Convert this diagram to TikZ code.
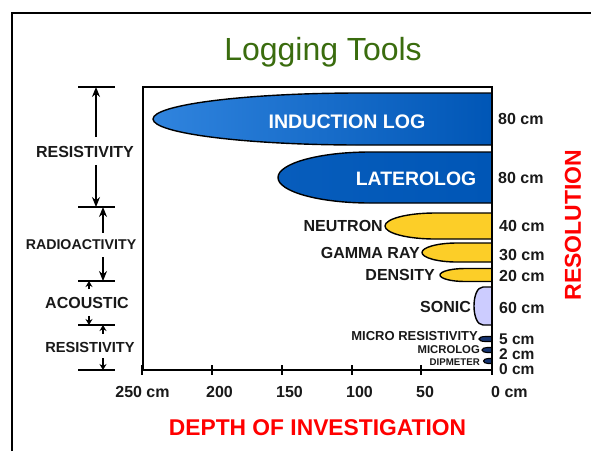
\documentclass[tikz,border=0pt]{standalone}
\usepackage{fontspec}
\setmainfont{Liberation Sans}
\usetikzlibrary{arrows.meta}

\definecolor{titlegreen}{RGB}{58,108,14}
\definecolor{darkblue}{RGB}{0,86,182}
\definecolor{lightblue}{RGB}{48,132,222}
\definecolor{toolyellow}{RGB}{252,206,40}
\definecolor{sonicblue}{RGB}{204,204,255}
\definecolor{navyblue}{RGB}{22,52,112}

\newcommand{\fs}[1]{\fontsize{#1}{#1}\selectfont}

\tikzset{
    tool/.style={draw=black, line width=1.4pt},
    smalltool/.style={draw=black, line width=1.1pt, fill=navyblue},
    lbl/.style={inner sep=0pt, font=\bfseries\fs{16}, text=black!90},
    toolname/.style={lbl, anchor=east},
    reslbl/.style={lbl, anchor=west},
    axl/.style={lbl, anchor=west},
    frame/.style={line width=2pt},
    tick/.style={line width=1.5pt},
    span/.style={line width=1.4pt, -{Stealth[length=10pt,width=8pt]}},
    shortspan/.style={line width=1.2pt, -{Stealth[length=6pt,width=7pt]}},
}

\begin{document}
\begin{tikzpicture}[x=1pt, y=-1pt]
    \useasboundingbox (0,0) rectangle (591,451);

    % Outer frame
    \draw[frame] (12,451) -- (12,13) -- (591,13);

    % Title
    \node[inner sep=0pt, anchor=base, font=\fs{32}, text=titlegreen] (title) at (323,60) {Logging Tools};

    % Tool shapes
    \draw[tool, left color=lightblue, right color=darkblue] (492,93) -- (360,93)
        arc[start angle=270, end angle=90, x radius=207, y radius=26] -- (492,145) -- cycle;
    \draw[tool, left color=darkblue!85!lightblue, right color=darkblue] (492,152) -- (370,152)
        arc[start angle=270, end angle=90, x radius=92, y radius=25.5] -- (492,203) -- cycle;
    \draw[tool, fill=toolyellow] (492,213) -- (435,213)
        arc[start angle=270, end angle=90, x radius=50, y radius=13] -- (492,239) -- cycle;
    \draw[tool, fill=toolyellow] (492,243) -- (457,243)
        arc[start angle=270, end angle=90, x radius=35, y radius=9.5] -- (492,262) -- cycle;
    \draw[tool, fill=toolyellow] (492,268.5) -- (465,268.5)
        arc[start angle=270, end angle=90, x radius=25, y radius=6.5] -- (492,281.5) -- cycle;
    \draw[tool, fill=sonicblue] (492,287) -- (483,287)
        .. controls (471,287) and (471,325) .. (483,325) -- (492,325) -- cycle;
    \draw[smalltool] (492,336.5) -- (485,336.5)
        arc[start angle=270, end angle=90, x radius=6, y radius=2.5] -- (492,341.5) -- cycle;
    \draw[smalltool] (492,347.5) -- (487,347.5)
        arc[start angle=270, end angle=90, x radius=5, y radius=2.5] -- (492,352.5) -- cycle;
    \draw[smalltool] (492,358.5) -- (488,358.5)
        arc[start angle=270, end angle=90, x radius=4.5, y radius=2.5] -- (492,363.5) -- cycle;

    % Plot box and depth axis
    \draw[frame] (143,370) -- (143,87) -- (492,87) -- (492,375);
    \draw[frame] (142,370) -- (492,370);
    \foreach \x in {142,212,282,352,421,492}
        \draw[tick] (\x,365) -- (\x,375);

    % Tool names
    \node[lbl, text=white, font=\bfseries\fs{19.6}] (induction) at (347,122) {INDUCTION LOG};
    \node[lbl, text=white, font=\bfseries\fs{19.4}] (latero) at (416,179) {LATEROLOG};
    \node[toolname] (neutron) at (383,226) {NEUTRON};
    \node[toolname] (gamma) at (420,253) {GAMMA RAY};
    \node[toolname] (density) at (435,275) {DENSITY};
    \node[toolname] (sonic) at (471,307) {SONIC};
    \node[toolname, font=\bfseries\fs{13}] (micro) at (478,336) {MICRO RESISTIVITY};
    \node[toolname, font=\bfseries\fs{11.3}] (microlog) at (480,350) {MICROLOG};
    \node[toolname, font=\bfseries\fs{9.7}] (dipmeter) at (480,362) {DIPMETER};

    % Resolution values
    \node[reslbl] (r80a) at (498,119) {80 cm};
    \node[reslbl] (r80b) at (498,178) {80 cm};
    \node[reslbl] (r40) at (499,226) {40 cm};
    \node[reslbl] (r30) at (499,255) {30 cm};
    \node[reslbl] (r20) at (499,276) {20 cm};
    \node[reslbl] (r60) at (499,308) {60 cm};
    \node[reslbl, font=\bfseries\fs{15.5}] (r5) at (499,339) {5 cm};
    \node[reslbl, font=\bfseries\fs{15.5}] (r2) at (499,354) {2 cm};
    \node[reslbl, font=\bfseries\fs{15.5}] (r0) at (499,369) {0 cm};
    \node[inner sep=0pt, rotate=90, text=red, font=\bfseries\fs{23}] (resolution) at (573,225) {RESOLUTION};

    % Depth axis labels
    \node[lbl] (d250) at (142.5,392) {250 cm};
    \foreach \v/\x in {200/206, 150/276, 100/346, 50/416}
        \node[axl] (d\v) at (\x,392) {\v};
    \node[axl] (d0) at (491,392) {0 cm};
    \node[inner sep=0pt, text=red, font=\bfseries\fs{22.8}] (depth) at (317.5,428) {DEPTH OF INVESTIGATION};

    % Measurement groups
    \foreach \y in {87,207,281,325,370}
        \draw[tick] (78,\y) -- (115,\y);
    \coordinate (ga1) at (96,87);
    \coordinate (ga2) at (96,207);
    \coordinate (gb1) at (103,207);
    \coordinate (gb2) at (103,281);
    \coordinate (gc1) at (89,281);
    \coordinate (gc2) at (89,325);
    \coordinate (gd1) at (103,325);
    \coordinate (gd2) at (103,370);

    \node[lbl] (resA) at (85,152) {RESISTIVITY};
    \node[lbl, font=\bfseries\fs{14.2}] (radio) at (81,245) {RADIOACTIVITY};
    \node[lbl] (acoustic) at (87,303) {ACOUSTIC};
    \node[lbl, font=\bfseries\fs{14.6}] (resB) at (90,347) {RESISTIVITY};

    \draw[span, shorten <=9pt] (resA.north -| ga1) -- (ga1);
    \draw[span, shorten <=7pt] (resA.south -| ga2) -- (ga2);
    \draw[span, shorten <=7pt] (radio.north -| gb1) -- (gb1);
    \draw[span, shorten <=7pt] (radio.south -| gb2) -- (gb2);
    \draw[shortspan, shorten <=8pt] (acoustic.north -| gc1) -- (gc1);
    \draw[shortspan, shorten <=7pt] (acoustic.south -| gc2) -- (gc2);
    \draw[shortspan, shorten <=8pt] (resB.north -| gd1) -- (gd1);
    \draw[shortspan, shorten <=6pt] (resB.south -| gd2) -- (gd2);
\end{tikzpicture}
\end{document}
